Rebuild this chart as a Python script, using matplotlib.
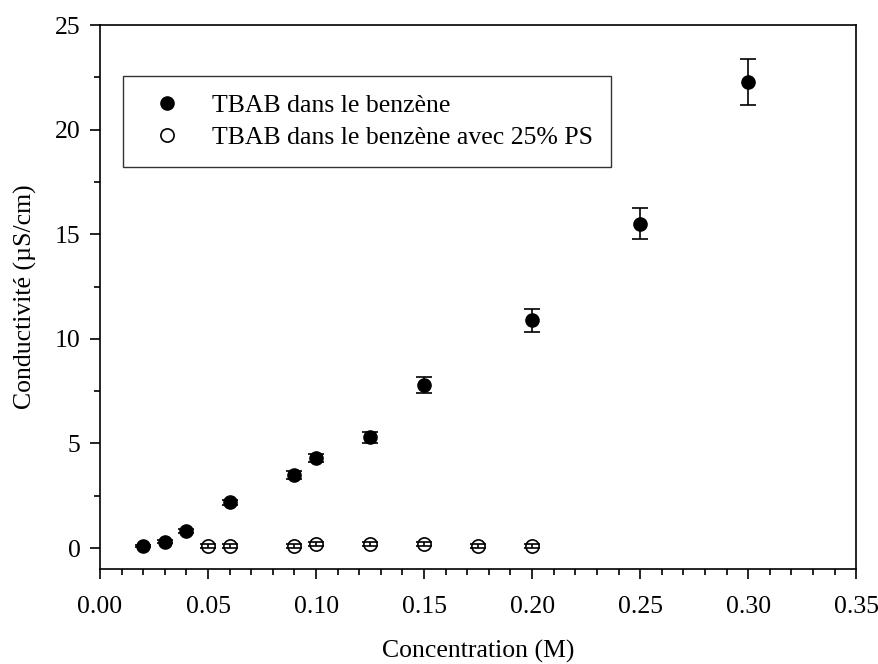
import matplotlib
matplotlib.use('Agg')
import matplotlib.pyplot as plt
from matplotlib.lines import Line2D
from matplotlib.ticker import MultipleLocator

plt.rcParams['font.family'] = ['Liberation Serif', 'DejaVu Serif']
fs = 18.5

# TBAB dans le benzène
x_pur = [0.02, 0.03, 0.04, 0.06, 0.09, 0.10, 0.125, 0.15, 0.20, 0.25, 0.30]
y_pur = [0.1, 0.3, 0.8, 2.2, 3.5, 4.3, 5.3, 7.8, 10.9, 15.5, 22.3]
e_pur = [0.05, 0.08, 0.1, 0.12, 0.18, 0.2, 0.27, 0.4, 0.55, 0.75, 1.1]

# TBAB dans le benzène avec 25% PS
x_ps = [0.05, 0.06, 0.09, 0.10, 0.125, 0.15, 0.175, 0.20]
y_ps = [0.1, 0.1, 0.1, 0.2, 0.2, 0.2, 0.1, 0.1]
e_ps = [0.1, 0.1, 0.1, 0.1, 0.1, 0.1, 0.1, 0.1]

fig = plt.figure(figsize=(8.79, 6.64), dpi=100)
ax = fig.add_axes([0.1138, 0.1431, 0.8602, 0.8192])

ax.errorbar(x_pur, y_pur, yerr=e_pur, fmt='o', ms=9.5, mfc='black', mec='black',
            ecolor='black', elinewidth=1.2, capsize=6, capthick=1.2)
ax.errorbar(x_ps, y_ps, yerr=e_ps, fmt='o', ms=9.5, mfc='none', mec='black', mew=1.2,
            ecolor='black', elinewidth=1.2, capsize=6, capthick=1.2)

ax.set_xlim(0, 0.35)
ax.set_ylim(-1, 25)
ax.xaxis.set_major_locator(MultipleLocator(0.05))
ax.xaxis.set_minor_locator(MultipleLocator(0.01))
ax.yaxis.set_major_locator(MultipleLocator(5))
ax.yaxis.set_minor_locator(MultipleLocator(2.5))
ax.xaxis.set_major_formatter(plt.FormatStrFormatter('%.2f'))
ax.tick_params(which='major', direction='out', length=7, width=1.2, labelsize=fs, pad=7)
ax.tick_params(axis='x', which='major', pad=12.5)
ax.tick_params(which='minor', direction='out', length=4, width=1.2)
ax.tick_params(top=False, right=False)
for s in ax.spines.values():
    s.set_linewidth(1.2)

ax.set_xlabel('Concentration (M)', fontsize=fs, labelpad=16)
ax.set_ylabel('Conductivité (µS/cm)', fontsize=fs, labelpad=13)

handles = [Line2D([], [], ls='none', marker='o', ms=9.5, mfc='black', mec='black'),
           Line2D([], [], ls='none', marker='o', ms=9.5, mfc='none', mec='black', mew=1.2)]
leg = ax.legend(handles, ['TBAB dans le benzène', 'TBAB dans le benzène avec 25% PS'],
                loc='upper left', bbox_to_anchor=(0.031, 0.906), borderaxespad=0,
                fontsize=fs, frameon=True, fancybox=False, edgecolor='black',
                borderpad=0.7, handlelength=2.0, handletextpad=0.75, labelspacing=0.35)
leg.get_frame().set_linewidth(1.0)

fig.savefig('out.png', dpi=100)
